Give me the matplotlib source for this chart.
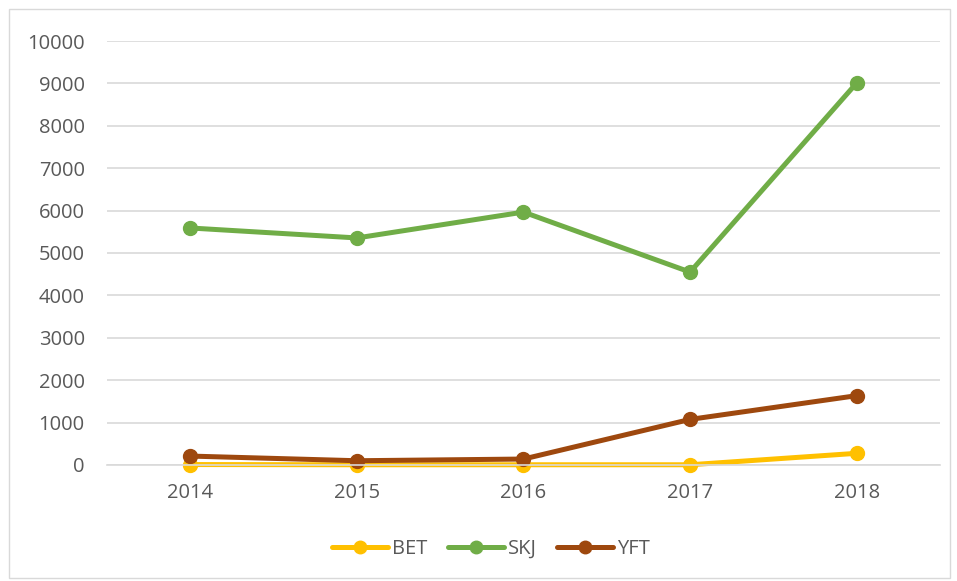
import matplotlib.pyplot as plt
from matplotlib.patches import Rectangle

years = ['2014', '2015', '2016', '2017', '2018']
bet = [10, 5, 5, 5, 275]
skj = [5590, 5355, 5965, 4550, 9010]
yft = [210, 100, 140, 1075, 1635]

plt.rcParams['font.family'] = ['Open Sans', 'DejaVu Sans']

fig = plt.figure(figsize=(9.57, 5.81), dpi=100)
fig.patches.append(Rectangle((0.009, 0.006), 0.984, 0.978, transform=fig.transFigure,
                             fill=False, edgecolor='#d9d9d9', linewidth=1))
ax = fig.add_axes([0.1118, 0.1997, 0.8704, 0.7297])

x = list(range(len(years)))
ax.plot(x, bet, color='#FFC000', lw=3.6, marker='o', ms=10, label='BET', solid_capstyle='round')
ax.plot(x, skj, color='#70AD47', lw=3.6, marker='o', ms=10, label='SKJ', solid_capstyle='round')
ax.plot(x, yft, color='#9E480E', lw=3.6, marker='o', ms=10, label='YFT', solid_capstyle='round')

ax.set_xlim(-0.5, len(years) - 0.5)
ax.set_ylim(0, 10000)
ax.set_yticks(range(0, 10001, 1000))
ax.set_xticks(x)
ax.set_xticklabels(years)
ax.grid(axis='y', color='#d9d9d9', lw=1.2)
ax.set_axisbelow(True)
for s in ['top', 'right', 'left']:
    ax.spines[s].set_visible(False)
ax.spines['bottom'].set_color('#d9d9d9')
ax.spines['bottom'].set_linewidth(1.2)
ax.tick_params(length=0, labelsize=14.5, labelcolor='#595959')
ax.tick_params(axis='y', pad=16)
ax.tick_params(axis='x', pad=13)
for l in ax.lines:
    l.set_clip_on(False)

fig.legend(loc='center', bbox_to_anchor=(0.513, 0.055), ncol=3, frameon=False,
           fontsize=14.5, labelcolor='#595959', handlelength=2.8, columnspacing=1.0,
           handletextpad=0.2, markerscale=0.9)

plt.savefig('out.png', dpi=100)
